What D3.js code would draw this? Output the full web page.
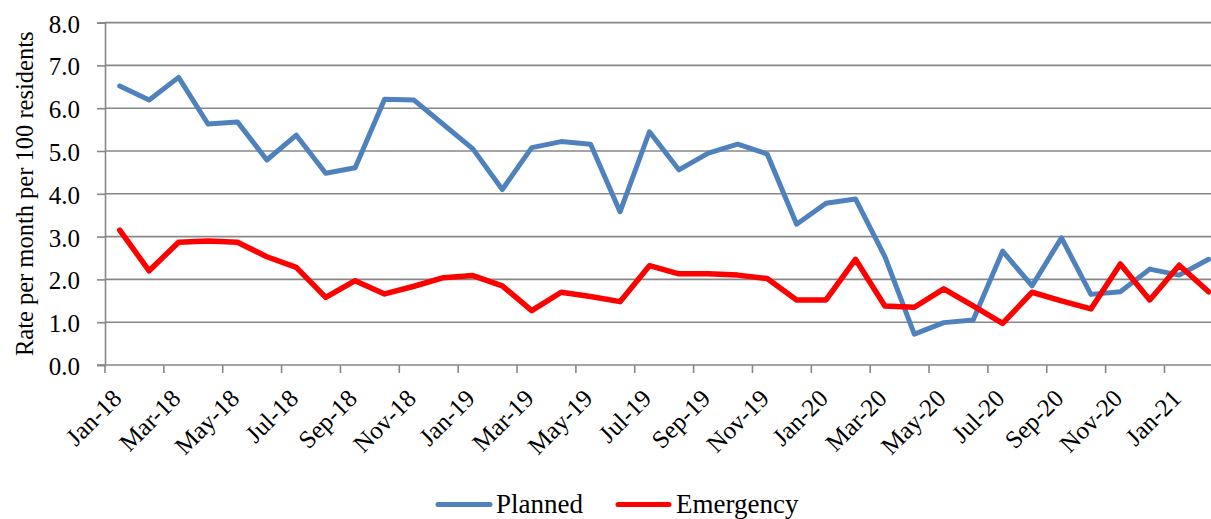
<!DOCTYPE html>
<html>
<head>
<meta charset="utf-8">
<script src="https://cdn.jsdelivr.net/npm/d3@7"></script>
<style>
  html, body { margin: 0; padding: 0; background: #fff; }
  svg { display: block; }
  text { font-family: "Liberation Serif", "Times New Roman", serif; fill: #000; }
</style>
</head>
<body>
<svg id="chart" width="1211" height="519"></svg>
<script>
// Monthly rates per 100 residents, Jan 2018 – Feb 2021
const months = [
  "Jan-18","Feb-18","Mar-18","Apr-18","May-18","Jun-18","Jul-18","Aug-18","Sep-18","Oct-18","Nov-18","Dec-18",
  "Jan-19","Feb-19","Mar-19","Apr-19","May-19","Jun-19","Jul-19","Aug-19","Sep-19","Oct-19","Nov-19","Dec-19",
  "Jan-20","Feb-20","Mar-20","Apr-20","May-20","Jun-20","Jul-20","Aug-20","Sep-20","Oct-20","Nov-20","Dec-20",
  "Jan-21","Feb-21"
];
const planned = [
  6.52, 6.19, 6.72, 5.63, 5.68, 4.79, 5.37, 4.48, 4.61, 6.21, 6.19, 5.62,
  5.05, 4.10, 5.08, 5.22, 5.16, 3.58, 5.45, 4.56, 4.95, 5.16, 4.93, 3.29,
  3.78, 3.88, 2.53, 0.72, 0.99, 1.05, 2.66, 1.85, 2.97, 1.65, 1.71, 2.24,
  2.10, 2.47
];
const emergency = [
  3.15, 2.20, 2.87, 2.90, 2.87, 2.53, 2.28, 1.58, 1.97, 1.66, 1.84, 2.04,
  2.09, 1.85, 1.27, 1.70, 1.60, 1.48, 2.32, 2.13, 2.13, 2.10, 2.02, 1.52,
  1.52, 2.47, 1.38, 1.35, 1.78, 1.38, 0.97, 1.70, 1.50, 1.31, 2.36, 1.52,
  2.33, 1.71
];
const yTicks = [0, 1, 2, 3, 4, 5, 6, 7, 8];
const seriesNames = ["Planned", "Emergency"];
const seriesColors = ["#4F81BD", "#FF0000"];

const svg = d3.select("#chart");
const plotLeft = 105, plotTop = 22.6, plotBottom = 365, step = 29.43;
const plotRight = plotLeft + months.length * step;

const x = d3.scaleBand().domain(months).range([plotLeft, plotRight]).padding(0);
const y = d3.scaleLinear().domain([0, 8]).range([plotBottom, plotTop]);
const gridColor = "#878787";

// horizontal gridlines
svg.append("g").selectAll("line").data(yTicks.filter(d => d > 0)).join("line")
  .attr("x1", plotLeft).attr("x2", plotRight)
  .attr("y1", d => y(d)).attr("y2", d => y(d))
  .attr("stroke", gridColor).attr("stroke-width", 1.6);

// y axis with labels
const yAxis = svg.append("g")
  .attr("transform", `translate(${plotLeft},0)`)
  .call(d3.axisLeft(y).tickValues(yTicks).tickFormat(d3.format(".1f")).tickSize(8).tickPadding(17));
yAxis.select(".domain").attr("stroke", gridColor).attr("stroke-width", 1.6);
yAxis.selectAll(".tick line").attr("stroke", gridColor).attr("stroke-width", 1.6);
yAxis.selectAll(".tick text")
  .attr("font-family", "Liberation Serif, serif").attr("font-size", 25)
  .attr("dy", "0.38em").attr("fill", "#000");

// x axis baseline
svg.append("line")
  .attr("x1", plotLeft - 8).attr("x2", plotRight)
  .attr("y1", plotBottom).attr("y2", plotBottom)
  .attr("stroke", gridColor).attr("stroke-width", 1.6);

// tick marks every two months, at category boundaries
const labelled = months.filter((m, i) => i % 2 === 0);
svg.append("g").selectAll("line").data(labelled).join("line")
  .attr("x1", d => x(d)).attr("x2", d => x(d))
  .attr("y1", plotBottom).attr("y2", plotBottom + 8)
  .attr("stroke", gridColor).attr("stroke-width", 1.6);

// rotated month labels
svg.append("g").selectAll("text").data(labelled).join("text")
  .attr("transform", d => `translate(${x(d) + x.bandwidth() / 2 + 3.5},${plotBottom + 35}) rotate(-45)`)
  .attr("text-anchor", "end")
  .attr("font-size", 25)
  .text(d => d);

// y axis title
svg.append("text")
  .attr("transform", `translate(33,${(plotTop + plotBottom) / 2}) rotate(-90)`)
  .attr("text-anchor", "middle")
  .attr("font-size", 24.5)
  .text("Rate per month per 100 residents");

// series lines
const line = d3.line()
  .x((d, i) => x(months[i]) + x.bandwidth() / 2)
  .y(d => y(d));
[planned, emergency].forEach((vals, k) => {
  svg.append("path")
    .datum(vals)
    .attr("d", line)
    .attr("fill", "none")
    .attr("stroke", seriesColors[k])
    .attr("stroke-width", k === 0 ? 5 : 5.5)
    .attr("stroke-linejoin", "round")
    .attr("stroke-linecap", "round");
});

// legend
const legendItems = [
  { name: seriesNames[0], color: seriesColors[0], x0: 438, x1: 490, tx: 496 },
  { name: seriesNames[1], color: seriesColors[1], x0: 618, x1: 669, tx: 676 }
];
const lg = svg.append("g");
legendItems.forEach(it => {
  lg.append("line")
    .attr("x1", it.x0).attr("x2", it.x1)
    .attr("y1", 504.5).attr("y2", 504.5)
    .attr("stroke", it.color).attr("stroke-width", 5)
    .attr("stroke-linecap", "round");
  lg.append("text")
    .attr("x", it.tx).attr("y", 513)
    .attr("font-size", 27)
    .text(it.name);
});
</script>
</body>
</html>
